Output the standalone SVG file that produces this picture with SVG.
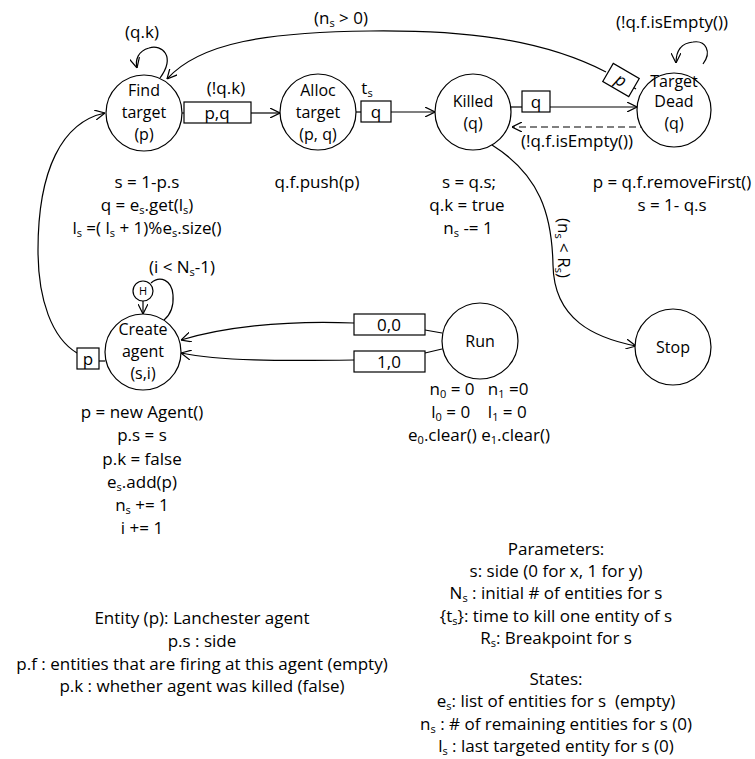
<svg xmlns="http://www.w3.org/2000/svg" width="755" height="759" viewBox="0 0 755 759">
  <style>
    text { font-family: "Open Sans", "Liberation Sans", Arial, sans-serif; font-size: 17px; fill: #000; text-anchor: middle; }
    .node text { font-size: 16px; }
    .node circle { fill: #fff; stroke: #000; stroke-width: 1.2; }
    .edge { fill: none; stroke: #000; stroke-width: 1.2; }
    .dash { stroke-dasharray: 7 4; }
    .tok { fill: #fff; stroke: #000; stroke-width: 1.2; }
    .sub { font-size: 11px; }
  </style>
  <defs>
    <marker id="arrow" viewBox="0 0 10 10" refX="10" refY="5" markerWidth="10" markerHeight="10" markerUnits="userSpaceOnUse" orient="auto">
      <path d="M0,0 L10,5 L0,10" fill="none" stroke="#000" stroke-width="1.2"/>
    </marker>
  </defs>

  <!-- connectors -->
  <g id="connectors">
    <!-- Find target self-loop -->
    <path class="edge" d="M160,78 C176,56 162,44 149,48 C138,51 135,60 137,68" marker-end="url(#arrow)"/>
    <!-- Find target -> Alloc target -->
    <line class="edge" x1="182" y1="113" x2="184" y2="113"/>
    <line class="edge" x1="251" y1="113" x2="280" y2="113" marker-end="url(#arrow)"/>
    <!-- Alloc target -> Killed -->
    <line class="edge" x1="356" y1="112" x2="361" y2="112"/>
    <line class="edge" x1="391" y1="112" x2="435" y2="112" marker-end="url(#arrow)"/>
    <!-- Killed -> Target Dead -->
    <line class="edge" x1="511" y1="107" x2="522" y2="107"/>
    <line class="edge" x1="550" y1="107" x2="637" y2="107" marker-end="url(#arrow)"/>
    <!-- Target Dead -> Killed (dashed) -->
    <line class="edge dash" x1="647" y1="127" x2="512" y2="127" marker-end="url(#arrow)"/>
    <!-- Target Dead self-loop -->
    <path class="edge" d="M703,64 C712,52 706,40 693,42 C682,43 676,50 676,63" marker-end="url(#arrow)"/>
    <!-- Target Dead -> Find target -->
    <path class="edge" d="M636,89 L631,86"/>
    <path class="edge" d="M606,72 C540,38 460,30 370,31 C270,32 200,42 167,79" marker-end="url(#arrow)"/>
    <!-- Killed -> Stop -->
    <path class="edge" d="M492,145 C540,175 552,215 553,265 C554,320 595,338 636,346" marker-end="url(#arrow)"/>
    <!-- Run -> Create agent -->
    <line class="edge" x1="442" y1="333" x2="425" y2="330"/>
    <path class="edge" d="M354,323 C280,320 220,328 181,340" marker-end="url(#arrow)"/>
    <line class="edge" x1="442" y1="349" x2="425" y2="353"/>
    <path class="edge" d="M354,360 C280,361 220,361 181,353" marker-end="url(#arrow)"/>
    <!-- History -> Create agent -->
    <line class="edge" x1="143" y1="301" x2="143" y2="314" marker-end="url(#arrow)"/>
    <path class="edge" d="M151,283 C160,275 172,280 173,295 C174,308 170,315 164,320"/>
    <!-- Create agent -> Find target -->
    <line class="edge" x1="99" y1="361" x2="105" y2="361"/>
    <path class="edge" d="M77,353 C52,338 38,300 38,250 C38,170 62,122 105,113" marker-end="url(#arrow)"/>
  </g>

  <!-- edge tokens -->
  <g id="tokens">
    <rect class="tok" x="184" y="102" width="67" height="21"/>
    <text x="217" y="119">p,q</text>
    <rect class="tok" x="361" y="101" width="30" height="21"/>
    <text x="376" y="118">q</text>
    <rect class="tok" x="522" y="91" width="28" height="21"/>
    <text x="536" y="108">q</text>
    <g transform="translate(621,80) rotate(30)">
      <rect class="tok" x="-15" y="-10.5" width="30" height="21"/>
      <text x="0" y="6" font-style="italic">p</text>
    </g>
    <rect class="tok" x="354" y="314" width="71" height="21"/>
    <text x="389" y="331">0,0</text>
    <rect class="tok" x="354" y="351" width="71" height="21"/>
    <text x="389" y="368">1,0</text>
    <rect class="tok" x="77" y="348" width="22" height="21"/>
    <text x="88" y="365">p</text>
  </g>

  <!-- edge labels -->
  <g id="edge-labels">
    <text x="142" y="38">(q.k)</text>
    <text x="341" y="24">(n<tspan class="sub" dy="3">s</tspan><tspan dy="-3"> &gt; 0)</tspan></text>
    <text x="672" y="28">(!q.f.isEmpty())</text>
    <text x="226" y="94">(!q.k)</text>
    <text x="367" y="94">t<tspan class="sub" dy="3">s</tspan></text>
    <text x="577" y="147">(!q.f.isEmpty())</text>
    <text x="182" y="273">(i &lt; N<tspan class="sub" dy="3">s</tspan><tspan dy="-3">-1)</tspan></text>
    <text transform="translate(558,248) rotate(90)">(n<tspan class="sub" dy="3">s</tspan><tspan dy="-3"> &lt; R</tspan><tspan class="sub" dy="3">s</tspan><tspan dy="-3">)</tspan></text>
  </g>

  <!-- nodes -->
  <g id="find-target" class="node">
    <circle cx="144" cy="113" r="38"/>
    <text x="144" y="96">Find</text>
    <text x="144" y="118">target</text>
    <text x="144" y="140">(p)</text>
  </g>
  <g id="alloc-target" class="node">
    <circle cx="318" cy="112" r="38"/>
    <text x="318" y="96">Alloc</text>
    <text x="318" y="118">target</text>
    <text x="318" y="140">(p, q)</text>
  </g>
  <g id="killed" class="node">
    <circle cx="473" cy="112" r="38"/>
    <text x="473" y="107">Killed</text>
    <text x="473" y="129">(q)</text>
  </g>
  <g id="target-dead" class="node">
    <circle cx="674" cy="110" r="37"/>
    <text x="674" y="87">Target</text>
    <text x="674" y="107">Dead</text>
    <text x="674" y="129">(q)</text>
  </g>
  <g id="history" class="node">
    <circle cx="143" cy="291" r="10"/>
    <text x="143" y="295" style="font-size:11px">H</text>
  </g>
  <g id="create-agent" class="node">
    <circle cx="143" cy="352" r="38"/>
    <text x="143" y="335">Create</text>
    <text x="143" y="357">agent</text>
    <text x="143" y="379">(s,i)</text>
  </g>
  <g id="run" class="node">
    <circle cx="480" cy="341" r="38"/>
    <text x="480" y="347">Run</text>
  </g>
  <g id="stop" class="node">
    <circle cx="673" cy="347" r="38"/>
    <text x="673" y="353">Stop</text>
  </g>

  <!-- state actions -->
  <g id="find-target-actions">
    <text x="147" y="188">s = 1-p.s</text>
    <text x="147" y="211">q = e<tspan class="sub" dy="3">s</tspan><tspan dy="-3">.get(l</tspan><tspan class="sub" dy="3">s</tspan><tspan dy="-3">)</tspan></text>
    <text x="147" y="234" xml:space="preserve">l<tspan class="sub" dy="3">s</tspan><tspan dy="-3"> =( l</tspan><tspan class="sub" dy="3">s</tspan><tspan dy="-3"> + 1)%e</tspan><tspan class="sub" dy="3">s</tspan><tspan dy="-3">.size()</tspan></text>
  </g>
  <g id="alloc-target-actions">
    <text x="317" y="188">q.f.push(p)</text>
  </g>
  <g id="killed-actions">
    <text x="469" y="188">s = q.s;</text>
    <text x="467" y="211">q.k = true</text>
    <text x="468" y="234">n<tspan class="sub" dy="3">s</tspan><tspan dy="-3"> -= 1</tspan></text>
  </g>
  <g id="target-dead-actions">
    <text x="672" y="188">p = q.f.removeFirst()</text>
    <text x="672" y="211">s = 1- q.s</text>
  </g>
  <g id="create-agent-actions">
    <text x="142" y="418">p = new Agent()</text>
    <text x="142" y="441">p.s = s</text>
    <text x="142" y="465">p.k = false</text>
    <text x="142" y="488">e<tspan class="sub" dy="3">s</tspan><tspan dy="-3">.add(p)</tspan></text>
    <text x="142" y="511">n<tspan class="sub" dy="3">s</tspan><tspan dy="-3"> += 1</tspan></text>
    <text x="142" y="534">i += 1</text>
  </g>
  <g id="run-actions">
    <text x="479" y="395" xml:space="preserve">n<tspan class="sub" dy="3">0</tspan><tspan dy="-3"> = 0   n</tspan><tspan class="sub" dy="3">1</tspan><tspan dy="-3"> =0</tspan></text>
    <text x="479" y="418" xml:space="preserve">l<tspan class="sub" dy="3">0</tspan><tspan dy="-3"> = 0    l</tspan><tspan class="sub" dy="3">1</tspan><tspan dy="-3"> = 0</tspan></text>
    <text x="479" y="441">e<tspan class="sub" dy="3">0</tspan><tspan dy="-3">.clear() e</tspan><tspan class="sub" dy="3">1</tspan><tspan dy="-3">.clear()</tspan></text>
  </g>

  <!-- legend -->
  <g id="entity-legend">
    <text x="202" y="624">Entity (p): Lanchester agent</text>
    <text x="202" y="647">p.s : side</text>
    <text x="202" y="670">p.f : entities that are firing at this agent (empty)</text>
    <text x="202" y="692">p.k : whether agent was killed (false)</text>
  </g>
  <g id="parameters-legend">
    <text x="556" y="555">Parameters:</text>
    <text x="556" y="577">s: side (0 for x, 1 for y)</text>
    <text x="556" y="599">N<tspan class="sub" dy="3">s</tspan><tspan dy="-3"> : initial # of entities for s</tspan></text>
    <text x="556" y="622">{t<tspan class="sub" dy="3">s</tspan><tspan dy="-3">}: time to kill one entity of s</tspan></text>
    <text x="556" y="644">R<tspan class="sub" dy="3">s</tspan><tspan dy="-3">: Breakpoint for s</tspan></text>
  </g>
  <g id="states-legend">
    <text x="556" y="685">States:</text>
    <text x="556" y="707" xml:space="preserve">e<tspan class="sub" dy="3">s</tspan><tspan dy="-3">: list of entities for s  (empty)</tspan></text>
    <text x="556" y="730">n<tspan class="sub" dy="3">s</tspan><tspan dy="-3"> : # of remaining entities for s (0)</tspan></text>
    <text x="556" y="752">l<tspan class="sub" dy="3">s</tspan><tspan dy="-3"> : last targeted entity for s (0)</tspan></text>
  </g>
</svg>
